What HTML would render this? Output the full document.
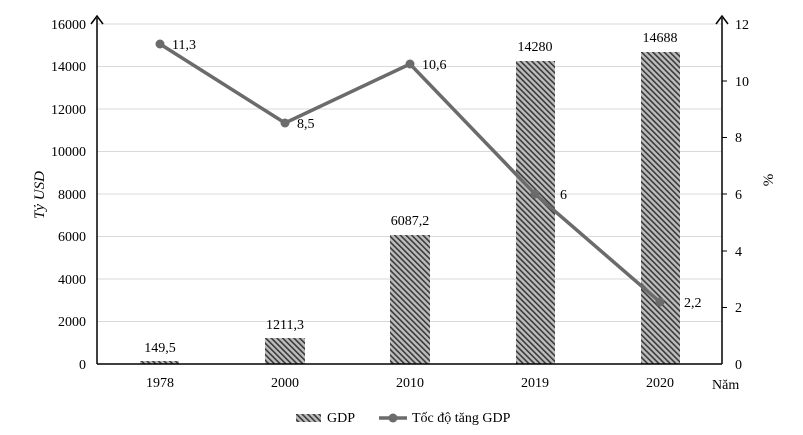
<!DOCTYPE html>
<html><head><meta charset="utf-8"><style>body{margin:0;background:#fff}svg{display:block;font-family:"Liberation Serif",serif}</style></head>
<body>
<svg width="803" height="435" viewBox="0 0 803 435">
<defs>
<pattern id="h" width="4" height="4" patternUnits="userSpaceOnUse" patternTransform="rotate(-45)">
<rect width="4" height="4" fill="#bdbdbd"/><rect width="1.6" height="4" fill="#3a3a3a"/>
</pattern>
</defs>
<g stroke="#d9d9d9" stroke-width="1">
<line x1="97" x2="722" y1="24" y2="24"/><line x1="97" x2="722" y1="66.5" y2="66.5"/><line x1="97" x2="722" y1="109" y2="109"/><line x1="97" x2="722" y1="151.5" y2="151.5"/><line x1="97" x2="722" y1="194" y2="194"/><line x1="97" x2="722" y1="236.5" y2="236.5"/><line x1="97" x2="722" y1="279" y2="279"/><line x1="97" x2="722" y1="321.5" y2="321.5"/>
</g>
<g fill="url(#h)">
<rect x="140" y="361" width="39" height="3"/>
<rect x="265" y="338" width="40" height="26"/>
<rect x="390" y="235" width="40" height="129"/>
<rect x="516" y="61" width="39" height="303"/>
<rect x="641" y="52" width="39" height="312"/>
</g>
<g stroke="#000" stroke-width="1.5" fill="none">
<line x1="97" y1="18" x2="97" y2="364"/>
<polyline points="91,24 97,16 103,24"/>
<line x1="97" y1="364" x2="722" y2="364"/>
<line x1="722" y1="18" x2="722" y2="364"/>
<polyline points="716,24 722,16 728,24"/>
</g>
<g stroke="#000"><line x1="722" x2="727" y1="81" y2="81"/><line x1="722" x2="727" y1="137.5" y2="137.5"/><line x1="722" x2="727" y1="194" y2="194"/><line x1="722" x2="727" y1="251" y2="251"/><line x1="722" x2="727" y1="307.5" y2="307.5"/></g>
<polyline points="160,44 285,123 410,64 535,194 660,302" fill="none" stroke="#6b6b6b" stroke-width="3.5"/>
<g fill="#6b6b6b"><circle cx="160" cy="44" r="4.5"/><circle cx="285" cy="123" r="4.5"/><circle cx="410" cy="64" r="4.5"/><circle cx="535" cy="194" r="4.5"/><circle cx="660" cy="302" r="4.5"/></g>
<g font-size="14" fill="#000" text-anchor="end">
<text x="86" y="29">16000</text><text x="86" y="71">14000</text><text x="86" y="114">12000</text><text x="86" y="156">10000</text><text x="86" y="199">8000</text><text x="86" y="241">6000</text><text x="86" y="284">4000</text><text x="86" y="326">2000</text><text x="86" y="369">0</text>
</g>
<g font-size="14" fill="#000">
<text x="735" y="29">12</text><text x="735" y="86">10</text><text x="735" y="142">8</text><text x="735" y="199">6</text><text x="735" y="256">4</text><text x="735" y="312">2</text><text x="735" y="369">0</text>
</g>
<g font-size="14" fill="#000" text-anchor="middle">
<text x="160" y="387">1978</text><text x="285" y="387">2000</text><text x="410" y="387">2010</text><text x="535" y="387">2019</text><text x="660" y="387">2020</text>
<text x="160" y="352">149,5</text><text x="285" y="329">1211,3</text><text x="410" y="225">6087,2</text><text x="535" y="51">14280</text><text x="660" y="42">14688</text>
</g>
<g font-size="14" fill="#000">
<text x="172" y="49">11,3</text><text x="297" y="128">8,5</text><text x="422" y="69">10,6</text><text x="560" y="199">6</text><text x="684" y="307">2,2</text>
<text x="712" y="389">Năm</text>
</g>
<text transform="translate(44,195) rotate(-90)" font-size="15" font-style="italic" text-anchor="middle">Tỷ USD</text>
<text transform="translate(773,180) rotate(-90)" font-size="15" text-anchor="middle">%</text>
<rect x="296" y="414" width="25" height="8" fill="url(#h)"/>
<text x="327" y="422" font-size="14">GDP</text>
<line x1="379" x2="407" y1="418" y2="418" stroke="#6b6b6b" stroke-width="3.5"/>
<circle cx="393" cy="418" r="4.5" fill="#6b6b6b"/>
<text x="412" y="422" font-size="14">Tốc độ tăng GDP</text>
</svg>
</body></html>
